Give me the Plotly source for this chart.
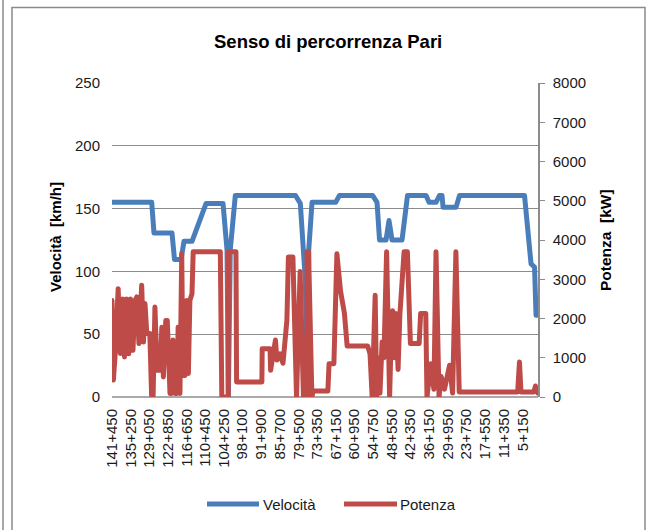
import plotly.graph_objects as go

# ---------------- data ----------------
tick_labels = ["141+450", "135+250", "129+050", "122+850", "116+650", "110+450",
               "104+250", "98+100", "91+900", "85+700", "79+500", "73+350",
               "67+150", "60+950", "54+750", "48+550", "42+350", "36+150",
               "29+950", "23+750", "17+550", "11+350", "5+150"]

# Velocità (km/h) vs progressive (km)
vel_km = [141.45, 128.27, 127.51, 121.53, 120.70, 118.54, 117.55, 114.89, 110.25,
          104.60, 103.27, 102.82, 102.20, 100.52, 80.54, 79.37, 78.94, 77.28, 76.72,
          76.15, 75.06, 67.20, 65.96, 54.97, 53.48, 52.65, 50.49, 49.50, 48.50,
          45.18, 43.36, 37.21, 36.22, 33.89, 32.73, 31.90, 31.57, 27.26, 26.09,
          4.52, 2.36, 1.20, 0.70, 0.05]
vel_val = [155, 155, 130.5, 130.5, 109.5, 109.5, 124, 124, 154,
           154, 117, 0, 117, 160.5, 160.5, 155, 154, 93, 0,
           117, 155, 155, 160.5, 160.5, 155, 125, 125, 140.5, 125,
           125, 160.5, 160.5, 155, 155, 160.5, 160.5, 151, 151, 160.5,
           160.5, 106, 103.5, 65, 65]

# Potenza (kW) vs progressive (km)
pot_km = [141.45, 141.00, 140.45, 139.40, 138.70, 137.90, 137.30, 136.60, 135.90,
          135.30, 134.50, 133.80, 133.20, 132.50, 131.60, 131.00, 130.50, 129.90,
          128.90, 128.30, 127.80, 127.20, 126.50, 125.50, 124.90, 124.40, 123.60,
          123.10, 122.20, 121.70, 121.20, 120.50, 119.90, 119.50, 118.90, 118.30,
          117.90, 117.20, 116.60, 116.10, 115.60, 114.90, 114.50, 105.50, 105.00,
          102.86, 102.80, 100.30, 100.10, 91.70, 91.60, 89.00, 88.80, 87.20, 86.70,
          85.70, 84.70, 83.40, 82.90, 81.40, 80.20, 79.00, 77.90, 76.76, 76.70,
          76.20, 75.10, 74.70, 69.80, 69.40, 67.80, 66.80, 65.60, 64.30, 63.40,
          56.60, 55.80, 55.10, 54.10, 53.60, 53.00, 52.50, 51.80, 51.20, 50.30,
          49.30, 48.80, 48.30, 47.80, 47.20, 46.50, 45.90, 44.50, 43.40, 42.40,
          39.50, 39.00, 37.30, 36.90, 35.60, 34.60, 33.90, 32.90, 32.20, 31.10,
          29.40, 28.40, 27.30, 26.20, 6.80, 6.20, 5.70, 1.40, 0.90, 0.05]
pot_val = [2460, 430, 1020, 2760, 1110, 2500, 1020, 2500, 1100,
           2500, 1190, 2460, 2550, 1360, 2850, 1400, 2380, 1620,
           1620, 40, 40, 2290, 680, 680, 1780, 510, 1950,
           1950, 90, 90, 1450, 90, 90, 1780, 90, 3650,
           550, 550, 2460, 600, 2460, 2630, 3700, 3700, 0,
           0, 3700, 3700, 380, 380, 1230, 1230, 680, 1450, 940,
           1100, 860, 1950, 3570, 3570, 0, 3200, 0, 0, 3700,
           3700, 0, 150, 150, 850, 850, 3650, 2700, 2130, 1300,
           1300, 1100, 0, 2590, 0, 1000, 100, 1400, 1000, 3700,
           0, 1500, 2200, 1000, 2130, 700, 2100, 3700, 3700, 1360,
           1360, 2130, 2130, 0, 850, 200, 3700, 0, 520, 200,
           810, 100, 3700, 130, 130, 890, 130, 130, 280, 100]

tick_km = [int(t.split("+")[0]) + int(t.split("+")[1]) / 1000 for t in tick_labels]

BLUE = "#4A7EBB"
RED = "#BE4B48"
GRID = "#8C8C8C"
FONT = "Liberation Sans, Arial, sans-serif"
TXT = "#1a1a1a"

fig = go.Figure()
fig.add_trace(go.Scatter(x=vel_km, y=vel_val, mode="lines", name="Velocità",
                         line=dict(color=BLUE, width=5), showlegend=False,
                         yaxis="y"))
fig.add_trace(go.Scatter(x=pot_km, y=pot_val, mode="lines", name="Potenza",
                         line=dict(color=RED, width=5), showlegend=False,
                         yaxis="y2"))

W, H = 651, 530
L, R, T, B = 112, 113, 83, 133
pw, ph = W - L - R, H - T - B


def xp(px):
    return (px - L) / pw


def yp(py):
    return (H - B - py) / ph


fig.update_layout(
    width=W, height=H,
    margin=dict(l=L, r=R, t=T, b=B),
    paper_bgcolor="white", plot_bgcolor="white",
    font=dict(family=FONT, size=15, color=TXT),
    xaxis=dict(range=[141.45, 0.05], tickmode="array", tickvals=tick_km,
               ticktext=tick_labels, tickangle=-90, showgrid=False,
               zeroline=False, showline=False, ticks="",
               ticklabelstandoff=8, tickfont=dict(size=15, family=FONT, color=TXT)),
    yaxis=dict(range=[0, 250], dtick=50, tick0=0, showgrid=True,
               gridcolor=GRID, gridwidth=1.3, zeroline=False, showline=False,
               ticks="", ticklabelstandoff=11,
               tickfont=dict(size=15, family=FONT, color=TXT)),
    yaxis2=dict(range=[0, 8000], dtick=1000, tick0=0, overlaying="y",
                side="right", showgrid=False, zeroline=False, showline=True,
                linecolor=GRID, linewidth=1.5, ticks="outside", ticklen=5,
                tickcolor=GRID, tickwidth=1.3, ticklabelstandoff=5,
                tickfont=dict(size=15, family=FONT, color=TXT)),
)

shapes = [
    dict(type="line", xref="paper", yref="paper", x0=0, x1=1, y0=0, y1=0,
         line=dict(color=GRID, width=1.5), layer="below"),
    # chart frame
    dict(type="rect", xref="paper", yref="paper", x0=xp(12), x1=xp(645),
         y0=yp(545), y1=yp(7.5), line=dict(color="#8a8a8a", width=1.5),
         fillcolor="rgba(0,0,0,0)", layer="below"),
    dict(type="line", xref="paper", yref="paper", x0=xp(3), x1=xp(3),
         y0=yp(545), y1=yp(-5), line=dict(color="#8a8a8a", width=1.5)),
    # legend samples
    dict(type="line", xref="paper", yref="paper", x0=xp(207), x1=xp(259),
         y0=yp(504), y1=yp(504), line=dict(color=BLUE, width=5)),
    dict(type="line", xref="paper", yref="paper", x0=xp(344), x1=xp(397),
         y0=yp(504), y1=yp(504), line=dict(color=RED, width=5)),
]

annotations = [
    dict(text="<b>Senso di percorrenza Pari</b>", xref="paper", yref="paper",
         x=xp(328), y=yp(42), showarrow=False, xanchor="center", yanchor="middle",
         font=dict(size=18.5, family=FONT, color="#000")),
    dict(text="<b>Velocità  [km/h]</b>", xref="paper", yref="paper",
         x=xp(55), y=yp(237), showarrow=False, textangle=-90,
         xanchor="center", yanchor="middle",
         font=dict(size=15, family=FONT, color="#000")),
    dict(text="<b>Potenza  [kW]</b>", xref="paper", yref="paper",
         x=xp(605), y=yp(240), showarrow=False, textangle=-90,
         xanchor="center", yanchor="middle",
         font=dict(size=15.5, family=FONT, color="#000")),
    dict(text="Velocità", xref="paper", yref="paper", x=xp(261), y=yp(504),
         showarrow=False, xanchor="left", yanchor="middle",
         font=dict(size=15, family=FONT, color=TXT)),
    dict(text="Potenza", xref="paper", yref="paper", x=xp(398), y=yp(504),
         showarrow=False, xanchor="left", yanchor="middle",
         font=dict(size=15, family=FONT, color=TXT)),
]

fig.update_layout(shapes=shapes, annotations=annotations)

post = ("document.body.style.margin='0';"
        "document.querySelectorAll('.scatterlayer .js-line').forEach(function(e){"
        "e.style.strokeLinejoin='round';e.style.strokeLinecap='round';});")

fig.write_html("out.html", post_script=post, config={"displayModeBar": False})
